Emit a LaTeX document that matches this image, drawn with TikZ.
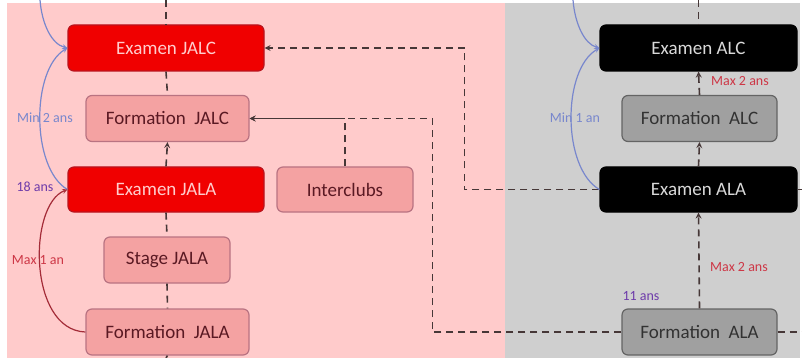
\documentclass[tikz,border=0pt]{standalone}
\usepackage{fontspec}
\setmainfont{Carlito}

\definecolor{pinkbg}{RGB}{255,203,203}
\definecolor{greybg}{RGB}{207,207,207}
\definecolor{jred}{RGB}{240,0,0}
\definecolor{jredline}{RGB}{185,20,30}
\definecolor{jredtext}{RGB}{255,205,205}
\definecolor{jpink}{RGB}{244,162,162}
\definecolor{jpinkline}{RGB}{185,115,130}
\definecolor{jtext}{RGB}{90,25,35}
\definecolor{agrey}{RGB}{160,160,160}
\definecolor{agreyline}{RGB}{100,100,100}
\definecolor{agreytext}{RGB}{50,50,50}
\definecolor{linkcol}{RGB}{70,55,55}
\definecolor{mincol}{RGB}{120,135,205}
\definecolor{maxcol}{RGB}{205,55,70}
\definecolor{agecol}{RGB}{110,60,170}

\begin{document}
\begin{tikzpicture}[>=stealth, x=1pt, y=1pt,
	box/.style={rectangle, rounded corners=6pt, minimum height=46pt, line width=1.2pt, inner sep=0pt, font=\fontsize{19}{22}\selectfont},
	redbox/.style={box, fill=jred, draw=jredline, text=jredtext},
	pinkbox/.style={box, fill=jpink, draw=jpinkline, text=jtext},
	blackbox/.style={box, fill=black, draw=black, text=white!85!black},
	greybox/.style={box, fill=agrey, draw=agreyline, text=agreytext},
	link/.style={draw=linkcol, line width=1.6pt, dash pattern=on 7pt off 5pt},
	plain/.style={draw=linkcol, line width=1.6pt},
	minarc/.style={draw=mincol, line width=1.2pt},
	maxarc/.style={draw=maxcol!80!black, line width=1.2pt},
	note/.style={inner sep=0pt, font=\fontsize{14}{16}\selectfont}]
	\useasboundingbox (0,0) rectangle (802,-358);

	%background
	\fill[pinkbg] (7,-3) rectangle (505,-358);
	\fill[greybg] (505,-3) rectangle (800,-358);

	%JA boxes
	\node[redbox,  minimum width=196pt] (ejalc) at (166,-48)    {Examen JALC};
	\node[pinkbox, minimum width=163pt] (fjalc) at (167.5,-118.5) {Formation\ \ JALC};
	\node[redbox,  minimum width=196pt, minimum height=45pt] (ejala) at (166,-189.5) {Examen JALA};
	\node[pinkbox, minimum width=136pt, minimum height=45pt] (inter) at (345,-189.5) {Interclubs};
	\node[pinkbox, minimum width=126pt] (sjala) at (167,-260)   {Stage JALA};
	\node[pinkbox, minimum width=163pt] (fjala) at (167.5,-332) {Formation\ \ JALA};

	%A boxes
	\node[blackbox, minimum width=197pt] (ealc) at (698.5,-48)    {Examen ALC};
	\node[greybox,  minimum width=155pt] (falc) at (699.5,-118.5) {Formation\ \ ALC};
	\node[blackbox, minimum width=197pt, minimum height=45pt] (eala) at (698.5,-189.5) {Examen ALA};
	\node[greybox,  minimum width=155pt] (fala) at (699.5,-332)   {Formation\ \ ALA};

	%free ends
	\coordinate (jtop) at (166,0);
	\coordinate (jbot) at (166,-358);
	\coordinate (atop) at (698.5,0);
	\coordinate (eout) at (802,-189.5);
	\coordinate (fout) at (802,-332);
	\coordinate (jarc) at (40,0);
	\coordinate (aarc) at (573,0);

	%vertical links, JA side
	\draw[link] (jtop)--(ejalc.north);
	\draw[link] (ejalc.south)--(fjalc.north);
	\draw[link,->] (ejala.north)--(fjalc.south);
	\draw[link] (ejala.south)--(sjala.north);
	\draw[link] (sjala.south)--(fjala.north);
	\draw[link] (fjala.south)--(jbot);

	%vertical links, A side
	\draw[link] (atop)--(ealc.north);
	\draw[link,->] (falc.north)--(ealc.south);
	\draw[link,->] (eala.north)--(falc.south);
	\draw[link,->] (fala.north)--(eala.south);
	\draw[link] (eala.east)--(eout);
	\draw[link] (fala.east)--(fout);

	%cross links
	\draw[link,->] (eala.west) -- ++(-135,0) |- (ejalc.east);
	\draw[link,->] (fala.west) -- ++(-189,0) |- (fjalc.east);
	\coordinate (join) at (inter.north |- fjalc.east);
	\draw[link] (inter.north)--(join);
	\draw[plain,->] (join)--(fjalc.east);

	%curves
	\draw[minarc,->] (jarc) .. controls (42,-25) and (52,-44) .. (ejalc.west);
	\draw[minarc,->] (ejala.west) .. controls (31,-168) and (31,-70) .. (ejalc.west);
	\draw[maxarc,->] (fjala.west) .. controls (28,-330) and (28,-205) .. (ejala.west);
	\draw[minarc,->] (aarc) .. controls (575,-25) and (585,-44) .. (ealc.west);
	\draw[minarc,->] (eala.west) .. controls (562,-168) and (562,-70) .. (ealc.west);

	%labels
	\node[note, text=mincol] (lmin2) at (45,-118)  {Min 2 ans};
	\node[note, text=agecol] (l18)   at (35,-187)  {18 ans};
	\node[note, text=maxcol] (lmax1) at (38,-260)  {Max 1 an};
	\node[note, text=mincol] (lmin1) at (575,-118) {Min 1 an};
	\node[note, text=maxcol] (lmax2a) at (740,-81) {Max 2 ans};
	\node[note, text=maxcol] (lmax2b) at (739,-267) {Max 2 ans};
	\node[note, text=agecol] (l11)   at (641,-296) {11 ans};
\end{tikzpicture}
\end{document}
